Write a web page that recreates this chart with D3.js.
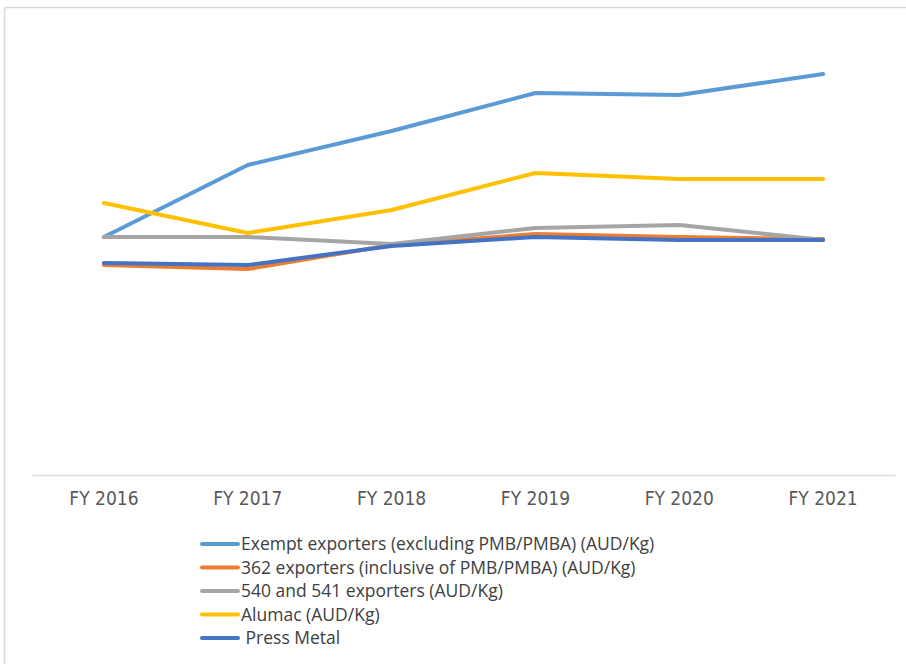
<!DOCTYPE html>
<html>
<head>
<meta charset="utf-8">
<script src="https://cdn.jsdelivr.net/npm/d3@7"></script>
<style>
  body { margin: 0; background: #fff; }
  svg { display: block; }
</style>
</head>
<body>
<script>
// categories on the x axis
const years = ['FY 2016', 'FY 2017', 'FY 2018', 'FY 2019', 'FY 2020', 'FY 2021'];

// series values (AUD/Kg - no y axis shown)
const exempt = [4.76, 6.20, 6.88, 7.64, 7.60, 8.02];
const exp362 = [4.20, 4.12, 4.60, 4.82, 4.76, 4.72];
const exp540 = [4.76, 4.76, 4.62, 4.94, 5.00, 4.70];
const alumac = [5.44, 4.84, 5.30, 6.04, 5.92, 5.92];
const pressMetal = [4.24, 4.20, 4.58, 4.76, 4.70, 4.70];

const seriesNames = [
  'Exempt exporters (excluding PMB/PMBA) (AUD/Kg)',
  '362 exporters (inclusive of PMB/PMBA) (AUD/Kg)',
  '540 and 541 exporters (AUD/Kg)',
  'Alumac (AUD/Kg)',
  ' Press Metal'
];
const seriesColors = ['#5b9bd5', '#ed7d31', '#a5a5a5', '#ffc000', '#4472c4'];

const series = [exempt, exp362, exp540, alumac, pressMetal].map((vals, i) => ({
  name: seriesNames[i],
  color: seriesColors[i],
  values: vals
}));

drawChart(series);

function drawChart(series) {
  const width = 906, height = 664;

  const svg = d3.select('body').append('svg')
    .attr('width', width)
    .attr('height', height);

  // light frame round the chart (runs off the right and bottom edge)
  svg.append('rect')
    .attr('x', 4.5).attr('y', 7.5)
    .attr('width', 920).attr('height', 700)
    .attr('rx', 2)
    .attr('fill', '#fff')
    .attr('stroke', '#d9d9d9')
    .attr('stroke-width', 1.5);

  const xScale = d3.scaleBand()
    .domain(years)
    .range([32, 895]);

  const yScale = d3.scaleLinear()
    .domain([0, 9])
    .range([475, 25]);

  const xAxis = d3.axisBottom(xScale).tickSize(0).tickPadding(17);

  const xAxisGroup = svg.append('g')
    .attr('class', 'axis x-axis')
    .attr('transform', 'translate(0, 475)')
    .call(xAxis);

  xAxisGroup.select('.domain')
    .attr('stroke', '#d9d9d9')
    .attr('stroke-width', 1.5);

  xAxisGroup.selectAll('text')
    .attr('fill', '#595959')
    .style('font-family', '"Liberation Sans Narrow", "DejaVu Sans Condensed", sans-serif')
    .style('font-size', '19px');

  const line = d3.line()
    .x((d, i) => xScale(years[i]) + xScale.bandwidth() / 2)
    .y(d => yScale(d));

  svg.selectAll('path.series')
    .data(series)
    .enter()
    .append('path')
    .attr('class', 'series')
    .attr('fill', 'none')
    .attr('stroke', d => d.color)
    .attr('stroke-width', 4)
    .attr('stroke-linecap', 'round')
    .attr('stroke-linejoin', 'round')
    .attr('d', d => line(d.values));

  // legend, one row per series
  const legend = svg.append('g')
    .attr('transform', 'translate(200, 544)');

  const rows = legend.selectAll('g')
    .data(series)
    .enter()
    .append('g')
    .attr('transform', (d, i) => `translate(0, ${i * 23.5})`);

  rows.append('line')
    .attr('x1', 2).attr('x2', 38)
    .attr('stroke', d => d.color)
    .attr('stroke-width', 4)
    .attr('stroke-linecap', 'round');

  rows.append('text')
    .attr('x', 41)
    .attr('dy', '0.35em')
    .attr('fill', '#404040')
    .style('white-space', 'pre')
    .style('font-family', '"Open Sans", sans-serif')
    .style('font-size', '17.5px')
    .text(d => d.name);
}
</script>
</body>
</html>
